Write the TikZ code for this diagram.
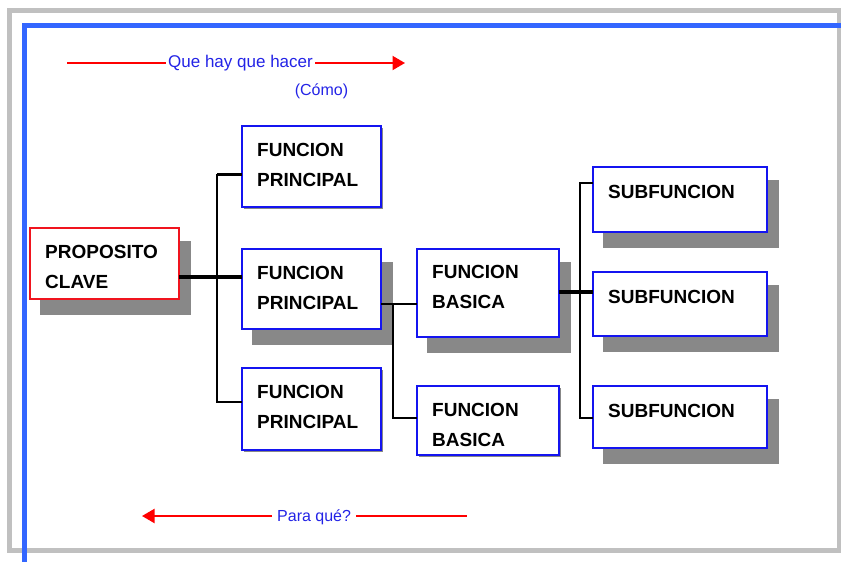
\documentclass[tikz,border=0pt]{standalone}
\usepackage{fontspec}
\setmainfont{Liberation Sans}
\usetikzlibrary{arrows.meta,calc,backgrounds}

\definecolor{framegray}{RGB}{192,192,192}
\definecolor{frameblue}{RGB}{51,102,255}
\definecolor{boxblue}{RGB}{20,20,240}
\definecolor{boxred}{RGB}{240,20,30}
\definecolor{shadowgray}{RGB}{136,136,136}
\definecolor{arrowred}{RGB}{255,0,0}
\definecolor{notetext}{RGB}{35,35,230}

\begin{document}
\begin{tikzpicture}[x=1pt,y=-1pt,
  box/.style={draw=boxblue, line width=2pt, fill=white, rectangle,
    inner sep=0pt, outer sep=0pt, anchor=north west},
  keybox/.style={box, draw=boxred},
  caption/.style={anchor=north west, inner sep=0pt, align=left,
    font=\fontsize{19}{30}\selectfont\bfseries},
  link/.style={line width=2.4pt, black},
  mainlink/.style={line width=3.4pt, black},
  redline/.style={draw=arrowred, line width=2pt},
  redarrow/.style={redline, -{Triangle[length=12.5pt,width=14pt]}},
  note/.style={text=notetext, inner sep=0pt},
  deepshadow/.style={fill=shadowgray},
]
\useasboundingbox (0,0) rectangle (841,562);

% page frame
\draw[framegray, line width=4.5pt] (9.5,10.5) rectangle (839,550.5);
\draw[frameblue, line width=4.5pt] (24.5,562) -- (24.5,25.5) -- (841,25.5);

% direction notes
\coordinate (h0) at (67,63);
\coordinate (h1) at (405,63);
\node[note, anchor=base west, inner xsep=2pt, font=\fontsize{17}{20}\selectfont]
  (how) at (166,67.5) {Que hay que hacer};
\node[note, anchor=base, font=\fontsize{16}{18}\selectfont]
  (howalt) at (321.5,95) {(Cómo)};
\draw[redline] (h0) -- (how.west |- h0);
\draw[redarrow] (how.east |- h1) -- (h1);

\coordinate (w0) at (142,516);
\coordinate (w1) at (467,516);
\node[note, anchor=base west, inner xsep=5pt, font=\fontsize{16}{18}\selectfont]
  (why) at (272,521) {Para qué?};
\draw[redarrow] (why.west |- w0) -- (w0);
\draw[redline] (why.east |- w1) -- (w1);

% connectors
\coordinate (t1) at (217,174);
\coordinate (t2) at (217,277);
\coordinate (t3) at (217,402);
\coordinate (u1) at (393,304);
\coordinate (u2) at (393,418);
\coordinate (v1) at (580,183);
\coordinate (v2) at (580,292);
\coordinate (v3) at (580,418);

% boxes
\node[keybox, minimum width=149pt, minimum height=71pt] (pc)   at (30,228) {};
\node[box, minimum width=139pt, minimum height=81pt]    (fp1)  at (242,126) {};
\node[box, minimum width=139pt, minimum height=80pt]    (fp2)  at (242,249) {};
\node[box, minimum width=139pt, minimum height=82pt]    (fp3)  at (242,368) {};
\node[box, minimum width=142pt, minimum height=88pt]    (fb1)  at (417,249) {};
\node[box, minimum width=142pt, minimum height=69pt]    (fb2)  at (417,386) {};
\node[box, minimum width=174pt, minimum height=65pt]    (sub1) at (593,167) {};
\node[box, minimum width=174pt, minimum height=64pt]    (sub2) at (593,272) {};
\node[box, minimum width=174pt, minimum height=62pt]    (sub3) at (593,386) {};

\draw[mainlink] (pc.east |- t2) -- (fp2.west |- t2);
\draw[link, line width=3pt] (fp1.west |- t1) -- (t1);
\draw[link] (t1) -- (t3) -- (fp3.west |- t3);
\draw[link] (fp2.east |- u1) -- (fb1.west |- u1);
\draw[link] (u1) -- (u2) -- (fb2.west |- u2);
\draw[mainlink] (fb1.east |- v2) -- (sub2.west |- v2);
\draw[link] (sub1.west |- v1) -- (v1) -- (v3) -- (sub3.west |- v3);

% box captions
\node[caption] (pc-t)   at (45,245)  {PROPOSITO\\CLAVE};
\node[caption] (fp1-t)  at (257,143) {FUNCION\\PRINCIPAL};
\node[caption] (fp2-t)  at (257,266) {FUNCION\\PRINCIPAL};
\node[caption] (fp3-t)  at (257,385) {FUNCION\\PRINCIPAL};
\node[caption] (fb1-t)  at (432,265) {FUNCION\\BASICA};
\node[caption] (fb2-t)  at (432,403) {FUNCION\\BASICA};
\node[caption] (sub1-t) at (608,185) {SUBFUNCION};
\node[caption] (sub2-t) at (608,290) {SUBFUNCION};
\node[caption] (sub3-t) at (608,404) {SUBFUNCION};

% drop shadows behind the boxes
\begin{scope}[on background layer]
  \foreach \n in {pc,fp2,fb1,sub1,sub2,sub3}
    \fill[deepshadow] ($(\n.north west)+(10,13)$) rectangle ($(\n.south east)+(12,16)$);
  \foreach \n in {fp1,fp3,fb2}
    \fill[deepshadow] ($(\n.north west)+(2,2)$) rectangle ($(\n.south east)+(2,2)$);
\end{scope}
\end{tikzpicture}
\end{document}
